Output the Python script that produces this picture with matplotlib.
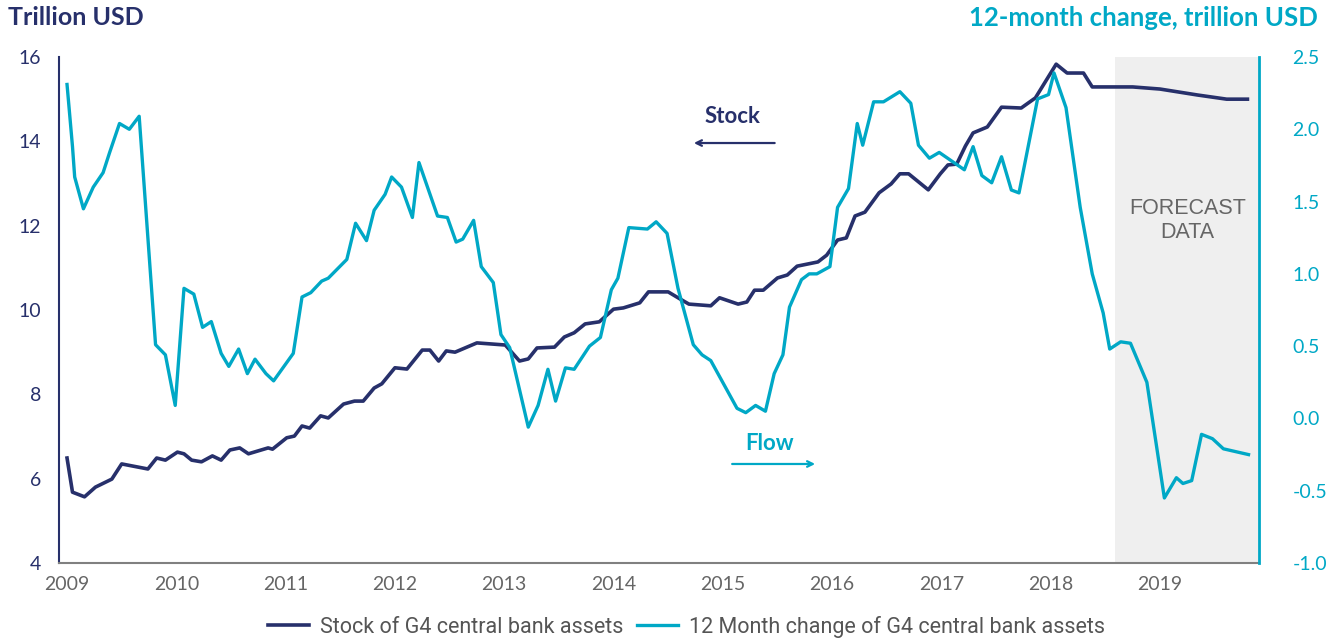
import matplotlib.pyplot as plt

# G4 central bank assets (fractional years)
stock_t = [2009.00, 2009.05, 2009.16, 2009.26, 2009.41, 2009.50, 2009.74, 2009.82, 2009.90,
           2010.01, 2010.07, 2010.14, 2010.23, 2010.33, 2010.41, 2010.49, 2010.58, 2010.66,
           2010.84, 2010.88, 2011.01, 2011.08, 2011.15, 2011.22, 2011.32, 2011.39, 2011.53,
           2011.63, 2011.71, 2011.81, 2011.88, 2012.00, 2012.11, 2012.25, 2012.32, 2012.40,
           2012.47, 2012.55, 2012.75, 2013.01, 2013.14, 2013.22, 2013.30, 2013.46, 2013.55,
           2013.64, 2013.74, 2013.87, 2014.00, 2014.09, 2014.24, 2014.32, 2014.50, 2014.61,
           2014.69, 2014.89, 2014.97, 2015.14, 2015.22, 2015.29, 2015.37, 2015.50, 2015.59,
           2015.68, 2015.87, 2015.95, 2016.05, 2016.13, 2016.21, 2016.30, 2016.43, 2016.54,
           2016.62, 2016.70, 2016.88, 2016.99, 2017.06, 2017.14, 2017.22, 2017.29, 2017.42,
           2017.55, 2017.73, 2017.86, 2018.05, 2018.15, 2018.30, 2018.38, 2018.75, 2019.00,
           2019.34, 2019.61, 2019.80]
stock = [6.49, 5.68, 5.57, 5.80, 5.99, 6.35, 6.23, 6.49, 6.44,
         6.63, 6.59, 6.44, 6.40, 6.54, 6.44, 6.68, 6.73, 6.59,
         6.73, 6.70, 6.97, 7.01, 7.25, 7.20, 7.49, 7.44, 7.77,
         7.84, 7.84, 8.15, 8.25, 8.63, 8.60, 9.05, 9.05, 8.79,
         9.03, 9.00, 9.22, 9.17, 8.79, 8.84, 9.10, 9.12, 9.36,
         9.46, 9.67, 9.72, 10.02, 10.05, 10.17, 10.43, 10.43, 10.26,
         10.14, 10.10, 10.29, 10.14, 10.19, 10.47, 10.47, 10.76, 10.83,
         11.04, 11.14, 11.30, 11.66, 11.71, 12.23, 12.32, 12.78, 12.99,
         13.23, 13.23, 12.85, 13.23, 13.44, 13.46, 13.89, 14.20, 14.34,
         14.81, 14.79, 15.03, 15.83, 15.62, 15.62, 15.29, 15.29, 15.24,
         15.10, 15.00, 15.00]

flow_t = [2009.00, 2009.05, 2009.07, 2009.15, 2009.24, 2009.33, 2009.39, 2009.48, 2009.57,
          2009.66, 2009.81, 2009.90, 2009.99, 2010.07, 2010.16, 2010.24, 2010.32, 2010.41,
          2010.48, 2010.57, 2010.65, 2010.72, 2010.82, 2010.89, 2011.07, 2011.15, 2011.23,
          2011.33, 2011.39, 2011.56, 2011.64, 2011.74, 2011.81, 2011.91, 2011.97, 2012.06,
          2012.16, 2012.22, 2012.39, 2012.48, 2012.56, 2012.62, 2012.72, 2012.79, 2012.90,
          2012.97, 2013.05, 2013.22, 2013.31, 2013.40, 2013.47, 2013.56, 2013.64, 2013.78,
          2013.88, 2013.98, 2014.04, 2014.14, 2014.31, 2014.39, 2014.49, 2014.59, 2014.73,
          2014.81, 2014.89, 2015.13, 2015.21, 2015.30, 2015.39, 2015.47, 2015.55, 2015.61,
          2015.72, 2015.79, 2015.86, 2015.98, 2016.05, 2016.15, 2016.23, 2016.28, 2016.38,
          2016.47, 2016.62, 2016.72, 2016.79, 2016.89, 2016.98, 2017.21, 2017.29, 2017.37,
          2017.46, 2017.55, 2017.64, 2017.71, 2017.88, 2017.98, 2018.03, 2018.14, 2018.27,
          2018.38, 2018.48, 2018.54, 2018.64, 2018.73, 2018.88, 2019.04, 2019.15, 2019.21,
          2019.29, 2019.38, 2019.48, 2019.58, 2019.81]
flow = [2.31, 1.88, 1.67, 1.45, 1.60, 1.70, 1.84, 2.04, 2.00,
        2.09, 0.51, 0.44, 0.09, 0.90, 0.86, 0.63, 0.67, 0.45,
        0.36, 0.48, 0.31, 0.41, 0.31, 0.26, 0.45, 0.84, 0.87,
        0.95, 0.97, 1.10, 1.35, 1.23, 1.44, 1.55, 1.67, 1.60,
        1.39, 1.77, 1.40, 1.39, 1.22, 1.24, 1.37, 1.05, 0.94,
        0.58, 0.49, -0.06, 0.09, 0.34, 0.12, 0.35, 0.34, 0.50,
        0.56, 0.89, 0.97, 1.32, 1.31, 1.36, 1.28, 0.90, 0.51,
        0.44, 0.40, 0.07, 0.04, 0.09, 0.05, 0.31, 0.44, 0.77,
        0.96, 1.00, 1.00, 1.05, 1.46, 1.59, 2.04, 1.89, 2.19,
        2.19, 2.26, 2.18, 1.89, 1.80, 1.84, 1.72, 1.88, 1.68,
        1.63, 1.81, 1.58, 1.56, 2.21, 2.24, 2.39, 2.15, 1.46,
        1.00, 0.73, 0.48, 0.53, 0.52, 0.25, -0.55, -0.41, -0.45,
        -0.43, -0.11, -0.14, -0.21, -0.25]

years = list(range(2009, 2020))
left_ticks = [4, 6, 8, 10, 12, 14, 16]
right_ticks = [-1.0, -0.5, 0.0, 0.5, 1.0, 1.5, 2.0, 2.5]
forecast_start = 2018.59

navy = '#27306b'
cyan = '#00a8c6'
grey = '#666666'

plt.rcParams['font.family'] = ['Lato', 'DejaVu Sans']

fig = plt.figure(figsize=(13.33, 6.39), dpi=100)
ax = fig.add_axes([0.0443, 0.1189, 0.9002, 0.7919])
ax2 = ax.twinx()

ax.axvspan(forecast_start, 2019.906, color='#efefef', zorder=0, lw=0)
ax.plot(stock_t, stock, color=navy, lw=2.6, label='Stock of G4 central bank assets', zorder=3)
ax2.plot(flow_t, flow, color=cyan, lw=2.4, label='12 Month change of G4 central bank assets')

ax.set_xlim(2008.927, 2019.906)
ax.set_ylim(4, 16)
ax2.set_ylim(-1.0, 2.5)
ax.set_xticks(years)
ax.set_yticks(left_ticks)
ax2.set_yticks(right_ticks)
ax2.set_yticklabels(['%.1f' % v for v in right_ticks])

ax.tick_params(axis='x', length=0, pad=9, labelsize=14, labelcolor=grey)
ax.tick_params(axis='y', length=0, pad=13, labelsize=14, labelcolor=navy)
ax2.tick_params(axis='y', length=0, pad=24, labelsize=14, labelcolor=cyan)

for a in (ax, ax2):
    a.spines['top'].set_visible(False)
ax.spines['right'].set_visible(False)
ax2.spines['left'].set_visible(False)
ax2.spines['bottom'].set_visible(False)
ax.spines['left'].set_color(navy)
ax.spines['left'].set_linewidth(1.5)
ax.spines['bottom'].set_color('#808080')
ax.spines['bottom'].set_linewidth(1.5)
ax2.spines['right'].set_color(cyan)
ax2.spines['right'].set_linewidth(2)

ax.text(2019.25, 12.13, 'FORECAST\nDATA', ha='center', va='center', fontsize=15.5,
        color=grey, family='Liberation Sans', linespacing=1.2)

# in-plot labels with arrows
ax.text(2015.09, 14.58, 'Stock', color=navy, fontsize=16, fontweight='bold',
        ha='center', va='center')
ax.annotate('', xy=(2014.71, 13.96), xytext=(2015.50, 13.96),
            arrowprops=dict(arrowstyle='->', color=navy, lw=1.6))
ax2.text(2015.43, -0.17, 'Flow', color=cyan, fontsize=16, fontweight='bold',
         ha='center', va='center')
ax2.annotate('', xy=(2015.87, -0.315), xytext=(2015.06, -0.315),
             arrowprops=dict(arrowstyle='->', color=cyan, lw=1.6))

fig.text(0.006, 0.972, 'Trillion USD', color=navy, fontsize=18, fontweight='bold',
         ha='left', va='center')
fig.text(0.989, 0.972, '12-month change, trillion USD', color=cyan, fontsize=18.5,
         fontweight='bold', ha='right', va='center')

h1, l1 = ax.get_legend_handles_labels()
h2, l2 = ax2.get_legend_handles_labels()
fig.legend(h1 + h2, l1 + l2, loc='center', bbox_to_anchor=(0.515, 0.019), ncol=2,
           frameon=False, labelcolor='#555555', handlelength=1.9,
           handletextpad=0.5, columnspacing=0.65, prop={'family': 'Roboto', 'size': 15.5})

fig.savefig('out.png', dpi=100)
